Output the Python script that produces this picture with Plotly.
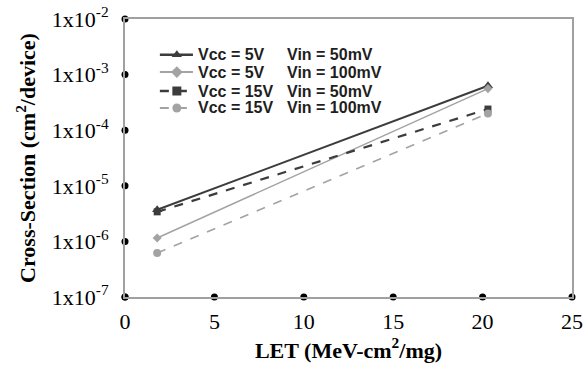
import math
import plotly.graph_objects as go

let_x = [1.8, 20.3]
s1 = [3.7e-6, 6.3e-4]   # Vcc=5V Vin=50mV
s2 = [1.15e-6, 5.6e-4]  # Vcc=5V Vin=100mV
s3 = [3.4e-6, 2.4e-4]   # Vcc=15V Vin=50mV
s4 = [6.2e-7, 2.0e-4]   # Vcc=15V Vin=100mV

vcc_labels = ["Vcc = 5V", "Vcc = 5V", "Vcc = 15V", "Vcc = 15V"]
vin_labels = ["Vin = 50mV", "Vin = 100mV", "Vin = 50mV", "Vin = 100mV"]

x_ticks = [0, 5, 10, 15, 20, 25]
y_ticks = [1e-7, 1e-6, 1e-5, 1e-4, 1e-3, 1e-2]
y_labels = ["1x10<sup>-7</sup>", "1x10<sup>-6</sup>", "1x10<sup>-5</sup>",
            "1x10<sup>-4</sup>", "1x10<sup>-3</sup>", "1x10<sup>-2</sup>"]

X_RANGE = [0, 25]
Y_LOG_RANGE = [-7, -2]

DARK = "#3c3c3c"
GRAY = "#a3a3a3"
styles = [
    dict(color=DARK, width=2, dash="solid", symbol="triangle-up", msize=9),
    dict(color=GRAY, width=1.5, dash="solid", symbol="diamond", msize=7),
    dict(color=DARK, width=2.2, dash="dash", symbol="square", msize=7),
    dict(color=GRAY, width=1.6, dash="dash", symbol="circle", msize=8),
]

fig = go.Figure()
for ys, st in zip([s1, s2, s3, s4], styles):
    fig.add_trace(go.Scatter(
        x=let_x, y=ys, mode="lines+markers", showlegend=False,
        line=dict(color=st["color"], width=st["width"], dash=st["dash"]),
        marker=dict(symbol=st["symbol"], size=st["msize"], color=st["color"]),
    ))

# Excel-style round tick markers on the axes (drawn on overlay axes in domain fractions)
xf = [(v - X_RANGE[0]) / (X_RANGE[1] - X_RANGE[0]) for v in x_ticks]
yf = [(math.log10(v) - Y_LOG_RANGE[0]) / (Y_LOG_RANGE[1] - Y_LOG_RANGE[0]) for v in y_ticks]
dot_x = xf + [0.0] * len(yf)
dot_y = [0.0] * len(xf) + yf

# manual legend (paper coordinates inside plot area)
row_y = [0.871, 0.809, 0.741, 0.680]
sym_x0, sym_x1, sym_xm = 0.078, 0.152, 0.116
txt_x1, txt_x2 = 0.158, 0.358
leg_x, leg_y, leg_sym, leg_col = [], [], [], []
for i, st in enumerate(styles):
    fig.add_shape(type="line", xref="paper", yref="paper",
                  x0=sym_x0, x1=sym_x1, y0=row_y[i], y1=row_y[i],
                  line=dict(color=st["color"], width=st["width"] + 0.5,
                            dash="solid" if st["dash"] == "solid" else "dash"))
    fig.add_annotation(xref="paper", yref="paper", x=txt_x1, y=row_y[i],
                       text="<b>" + vcc_labels[i] + "</b>", showarrow=False,
                       xanchor="left", yanchor="middle",
                       font=dict(family="Liberation Sans, Arial", size=16, color="#1e1e1e"))
    fig.add_annotation(xref="paper", yref="paper", x=txt_x2, y=row_y[i],
                       text="<b>" + vin_labels[i] + "</b>", showarrow=False,
                       xanchor="left", yanchor="middle",
                       font=dict(family="Liberation Sans, Arial", size=16, color="#1e1e1e"))
    leg_x.append(sym_xm)
    leg_y.append(row_y[i])
    leg_sym.append(st["symbol"])
    leg_col.append(st["color"])

fig.add_trace(go.Scatter(x=leg_x, y=leg_y, xaxis="x2", yaxis="y2", mode="markers",
                         marker=dict(symbol=leg_sym, color=leg_col, size=9),
                         showlegend=False, cliponaxis=False, hoverinfo="skip"))
fig.add_trace(go.Scatter(x=dot_x, y=dot_y, xaxis="x2", yaxis="y2", mode="markers",
                         marker=dict(symbol="circle", size=7, color="black"),
                         showlegend=False, cliponaxis=False, hoverinfo="skip"))

fig.update_layout(
    width=588, height=381,
    margin=dict(l=125, r=16, t=19, b=84),
    plot_bgcolor="white", paper_bgcolor="white",
    showlegend=False,
    font=dict(family="Liberation Serif, Times New Roman", color="black"),
    xaxis=dict(
        range=X_RANGE, tickvals=x_ticks, ticks="outside", ticklen=4,
        tickcolor="rgba(0,0,0,0)", showgrid=False, zeroline=False, automargin=False,
        showline=True, linecolor="#a0a0a0", linewidth=2, mirror=True,
        tickfont=dict(size=22, family="Liberation Serif"),
        title=dict(text="<b>LET (MeV-cm<sup>2</sup>/mg)</b>",
                   font=dict(size=22, family="Liberation Serif"), standoff=8),
    ),
    yaxis=dict(
        type="log", range=Y_LOG_RANGE, tickvals=y_ticks, ticktext=y_labels,
        ticks="outside", ticklen=10, tickcolor="rgba(0,0,0,0)",
        showgrid=False, zeroline=False, automargin=False,
        showline=True, linecolor="#a0a0a0", linewidth=2, mirror=True,
        tickfont=dict(size=22, family="Liberation Serif"),
        title=dict(text="<b>Cross-Section (cm<sup>2</sup>/device)</b>",
                   font=dict(size=22, family="Liberation Serif"), standoff=10),
    ),
    xaxis2=dict(overlaying="x", range=[0, 1], visible=False, fixedrange=True),
    yaxis2=dict(overlaying="y", range=[0, 1], visible=False, fixedrange=True),
)

fig.write_html("out.html")
